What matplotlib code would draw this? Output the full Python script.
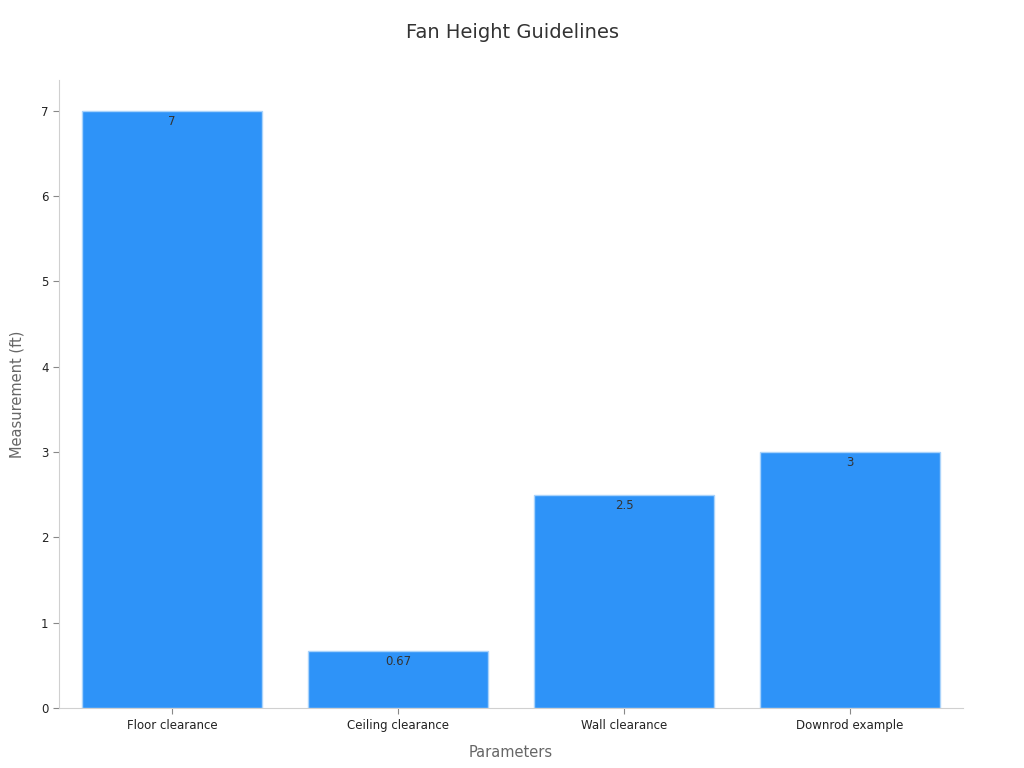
import matplotlib
matplotlib.use("Agg")
import matplotlib.pyplot as plt

categories = ["Floor clearance", "Ceiling clearance", "Wall clearance", "Downrod example"]
values = [7, 0.67, 2.5, 3]
value_labels = ["7", "0.67", "2.5", "3"]

fig = plt.figure(figsize=(10.24, 7.68), dpi=100)
ax = fig.add_axes([0.0576, 0.078, 0.8828, 0.818])

x = list(range(len(categories)))
bars = ax.bar(x, values, width=0.8, color="#2E93F8", edgecolor="#A9D3FB", linewidth=1)

for xi, v, lab in zip(x, values, value_labels):
    ax.annotate(lab, (xi, v), xytext=(0, -3), textcoords="offset points",
                ha="center", va="top", fontsize=8.5, color="#333333")

ax.set_xlim(-0.5, 3.5)
ax.set_ylim(0, 7.36)
ax.set_xticks(x)
ax.set_xticklabels(categories, fontsize=8.5, color="#222222")
ax.set_yticks(range(0, 8))
ax.tick_params(axis="y", labelsize=8.5)
for lbl in ax.get_yticklabels():
    lbl.set_color("#222222")
ax.tick_params(axis="both", color="#888888", length=4)

for s in ["top", "right"]:
    ax.spines[s].set_visible(False)
for s in ["left", "bottom"]:
    ax.spines[s].set_color("#D0D0D0")

ax.set_xlabel("Parameters", fontsize=10.5, color="#666666", labelpad=10)
ax.set_ylabel("Measurement (ft)", fontsize=10.5, color="#666666", labelpad=12)
fig.suptitle("Fan Height Guidelines", fontsize=14, color="#333333", y=0.97)

fig.savefig("out.png", dpi=100)
